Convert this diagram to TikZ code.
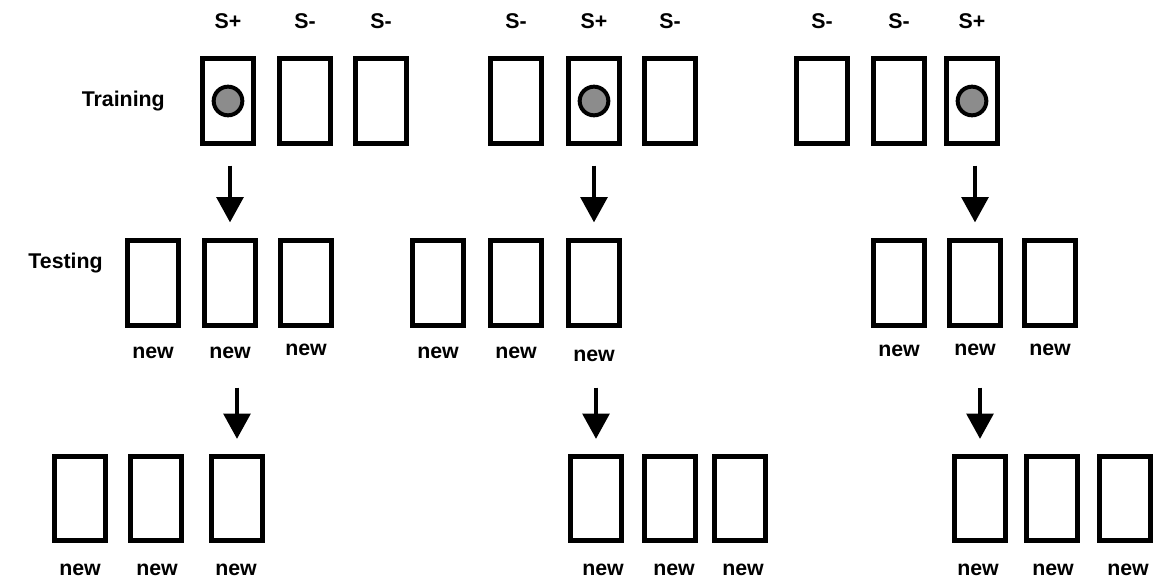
\documentclass[tikz,border=0pt]{standalone}
\usepackage{fontspec}
\setmainfont{Liberation Sans}
\usetikzlibrary{arrows.meta,calc}
\begin{document}
\begin{tikzpicture}[x=0.75pt,y=-0.75pt,
  card/.style={draw,line width=3.6pt,minimum width=38.4pt,minimum height=63.3pt,inner sep=0pt},
  spot/.style={circle,draw,line width=3pt,fill=black!45,minimum size=21.5pt,inner sep=0pt},
  lbl/.style={font=\fontsize{16}{18}\selectfont\bfseries,inner sep=0pt},
  arr/.style={line width=3pt,-{Triangle[width=20pt,length=19pt]}}]
\useasboundingbox (0,0) rectangle (1167,584);

% training row
\foreach \n/\x in {1/228,2/305,3/381,4/516,5/594,6/670,7/822,8/899,9/972}
  \node[card] (tr\n) at (\x,101) {};
\node[spot] (c1) at (tr1) {};
\node[spot] (c5) at (tr5) {};
\node[spot] (c9) at (tr9) {};
\foreach \n/\t in {1/S+,2/S-,3/S-,4/S-,5/S+,6/S-,7/S-,8/S-,9/S+}
  \node[lbl] (s\n) at ($(tr\n.north)+(0,-35)$) {\t};
\node[lbl,anchor=east] (training) at (165,101) {Training};

% testing row
\foreach \n/\x in {1/153,2/230,3/306,4/438,5/516,6/594,7/899,8/975,9/1050}
  \node[card] (te\n) at (\x,283) {};
\foreach \n/\dy in {1/0,2/0,3/-3,4/0,5/0,6/3,7/-2,8/-3,9/-3}
  \node[lbl] (n\n) at ($(te\n.south)+(0,25+\dy)$) {new};
\node[lbl,anchor=east] (testing) at (103,263) {Testing};

% final row
\foreach \n/\x in {1/80,2/156,3/237,4/596,5/670,6/740,7/980,8/1052,9/1125}
  \node[card] (bt\n) at (\x,498.5) {};
\foreach \n/\dx in {1/0,2/1,3/-1,4/7,5/4,6/3,7/-2,8/1,9/3}
  \node[lbl] (m\n) at ($(bt\n.south)+(\dx,27)$) {new};

% arrows: training -> testing
\path (tr1.south -| te2.north) coordinate (a1)
      (tr5.south -| te6.north) coordinate (a2)
      (tr9.south -| te8.north) coordinate (a3);
\draw[arr] ($(a1)+(0,20)$) -- ($(te2.north)+(0,-16)$);
\draw[arr] ($(a2)+(0,20)$) -- ($(te6.north)+(0,-16)$);
\draw[arr] ($(a3)+(0,20)$) -- ($(te8.north)+(0,-16)$);

% arrows: testing -> final
\path (te2.south -| bt3.north) coordinate (b1)
      (te6.south -| bt4.north) coordinate (b2)
      (te8.south -| bt7.north) coordinate (b3);
\draw[arr] ($(b1)+(0,60)$) -- ($(bt3.north)+(0,-15)$);
\draw[arr] ($(b2)+(0,60)$) -- ($(bt4.north)+(0,-15)$);
\draw[arr] ($(b3)+(0,60)$) -- ($(bt7.north)+(0,-15)$);
\end{tikzpicture}
\end{document}
